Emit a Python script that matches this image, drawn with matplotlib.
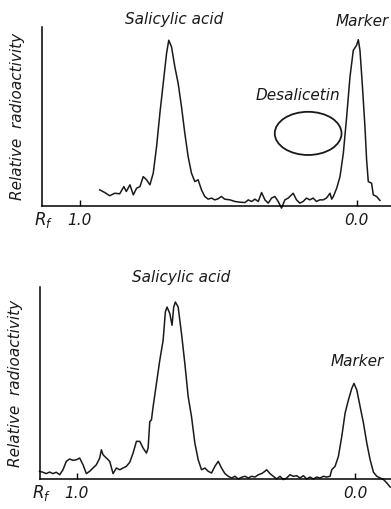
import numpy as np
import matplotlib
matplotlib.use('Agg')
import matplotlib.pyplot as plt
from matplotlib.patches import Ellipse

# upper chromatogram (Rf vs relative radioactivity, 0-100 = axis height)
rf_top = [0.928, 0.910, 0.892, 0.874, 0.856, 0.841, 0.832, 0.819, 0.807, 0.795,
          0.783, 0.771, 0.759, 0.747, 0.735, 0.723, 0.711, 0.699, 0.687, 0.679,
          0.669, 0.657, 0.645, 0.633, 0.621, 0.609, 0.597, 0.585, 0.573, 0.561,
          0.549, 0.537, 0.525, 0.513, 0.501, 0.489, 0.477, 0.458, 0.440, 0.422,
          0.404, 0.392, 0.380, 0.368, 0.356, 0.344, 0.332, 0.320, 0.308, 0.296,
          0.284, 0.272, 0.260, 0.248, 0.230, 0.218, 0.206, 0.194, 0.182, 0.170,
          0.158, 0.146, 0.134, 0.122, 0.110, 0.097, 0.091, 0.085, 0.073, 0.061,
          0.049, 0.037, 0.025, 0.013, 0.001, -0.005, -0.011, -0.020, -0.029, -0.035,
          -0.041, -0.053, -0.059, -0.071, -0.083]
act_top = [9.1, 7.6, 5.8, 7.2, 6.9, 10.9, 8.2, 11.9, 6.3, 10.0,
           10.9, 16.5, 14.7, 11.9, 18.4, 33.2, 51.8, 68.5, 85.2, 92.6,
           88.9, 77.7, 68.5, 55.5, 40.6, 27.6, 18.4, 13.7, 14.7, 9.1,
           5.4, 3.9, 4.5, 3.5, 4.1, 5.4, 3.9, 3.5, 2.6, 2.2,
           2.0, 3.5, 2.6, 3.9, 2.6, 7.6, 3.5, 1.7, 4.5, 5.4,
           2.6, -1.1, 3.5, 4.5, 7.2, 3.5, 1.7, 2.6, 4.5, 3.5,
           4.5, 2.6, 3.5, 3.5, 4.5, 7.2, 3.9, 5.4, 10.0, 16.5,
           29.5, 49.9, 72.2, 87.0, 89.8, 92.9, 87.0, 66.6, 44.3, 25.8,
           13.7, 12.8, 6.3, 5.4, 3.2]

# lower chromatogram
rf_bot = [1.134, 1.122, 1.110, 1.098, 1.086, 1.074, 1.062, 1.050, 1.038, 1.026,
          1.014, 1.002, 0.990, 0.978, 0.966, 0.954, 0.942, 0.930, 0.918, 0.912,
          0.906, 0.894, 0.882, 0.870, 0.858, 0.846, 0.834, 0.822, 0.810, 0.798,
          0.786, 0.774, 0.762, 0.750, 0.744, 0.738, 0.732, 0.726, 0.714, 0.702,
          0.690, 0.682, 0.676, 0.666, 0.658, 0.652, 0.646, 0.636, 0.624, 0.612,
          0.600, 0.588, 0.576, 0.564, 0.552, 0.540, 0.528, 0.516, 0.504, 0.492,
          0.480, 0.468, 0.456, 0.444, 0.432, 0.420, 0.408, 0.396, 0.384, 0.372,
          0.360, 0.348, 0.336, 0.324, 0.318, 0.306, 0.294, 0.282, 0.270, 0.258,
          0.246, 0.234, 0.222, 0.210, 0.198, 0.186, 0.174, 0.162, 0.150, 0.138,
          0.126, 0.114, 0.102, 0.090, 0.084, 0.072, 0.060, 0.048, 0.036, 0.024,
          0.012, 0.004, -0.006, -0.018, -0.030, -0.042, -0.054, -0.066, -0.078, -0.090,
          -0.102, -0.114, -0.126]
act_bot = [4.0, 3.5, 2.8, 3.6, 2.8, 3.5, 2.2, 4.8, 9.2, 10.4,
           9.7, 10.0, 10.9, 7.4, 2.8, 4.0, 5.7, 7.4, 10.9, 15.2,
           12.6, 10.9, 9.2, 2.8, 5.7, 4.8, 5.7, 6.6, 8.7, 13.5,
           19.6, 19.6, 16.1, 13.5, 16.1, 29.9, 30.8, 37.7, 49.8, 61.9,
           72.3, 87.0, 89.6, 86.2, 80.1, 89.6, 92.2, 89.6, 75.8, 60.2,
           42.9, 32.5, 18.7, 10.0, 4.8, 5.7, 4.0, 3.1, 6.6, 9.2,
           5.7, 2.8, 1.4, 0.5, 1.4, 0.0, 0.9, 1.4, 0.5, 1.4,
           1.0, 2.2, 2.8, 4.0, 4.8, 2.8, 1.4, 0.0, 1.4, -0.3,
           0.5, 2.2, 1.4, 1.7, 0.5, 1.7, 0.0, 1.0, 0.0, 1.0,
           0.5, 1.4, 1.0, 1.4, 4.8, 6.6, 11.8, 22.1, 34.3, 41.2,
           47.2, 49.8, 46.4, 37.7, 29.1, 18.7, 10.0, 3.5, 1.4, 0.5,
           -0.3, -2.1, -4.2]

tick_pos = [1.0, 0.0]
tick_lab = ['1.0', '0.0']
txt = dict(fontsize=11, fontstyle='italic', color='#1a1a1a')

fig = plt.figure(figsize=(3.91, 5.09), dpi=100)
ax1 = fig.add_axes([0.107, 0.595, 0.893, 0.352])
ax2 = fig.add_axes([0.102, 0.059, 0.898, 0.377])

for ax, rf, act, xl in [(ax1, rf_top, act_top, (1.137, -0.123)),
                        (ax2, rf_bot, act_bot, (1.133, -0.129))]:
    ax.plot(rf, act, color='#1a1a1a', lw=1.1, clip_on=False)
    ax.set_xlim(*xl)
    ax.set_ylim(0, 100)
    ax.spines['top'].set_visible(False)
    ax.spines['right'].set_visible(False)
    ax.spines['left'].set_linewidth(1.1)
    ax.spines['bottom'].set_linewidth(1.1)
    ax.set_yticks([])
    ax.set_xticks(tick_pos)
    ax.set_xticklabels(tick_lab, **txt)
    ax.tick_params(axis='x', direction='in', length=4, width=1.0, pad=5)
    ax.set_ylabel('Relative  radioactivity', labelpad=12, **txt)
    ax.text(0.005, -0.075, '$R_f$', transform=ax.transAxes, ha='center', va='center',
            fontsize=12, color='#1a1a1a')

ax1.text(0.66, 104, 'Salicylic acid', ha='center', va='center', **txt)
ax1.text(-0.02, 103, 'Marker', ha='center', va='center', **txt)
ax1.text(0.213, 62, 'Desalicetin', ha='center', va='center', **txt)
ax1.add_patch(Ellipse((0.176, 40.6), 0.241, 24.1, angle=0, fill=False,
                      ec='#1a1a1a', lw=1.3))

ax2.text(0.626, 105, 'Salicylic acid', ha='center', va='center', **txt)
ax2.text(-0.006, 61, 'Marker', ha='center', va='center', **txt)

fig.savefig('out.png', dpi=100, facecolor='white')
